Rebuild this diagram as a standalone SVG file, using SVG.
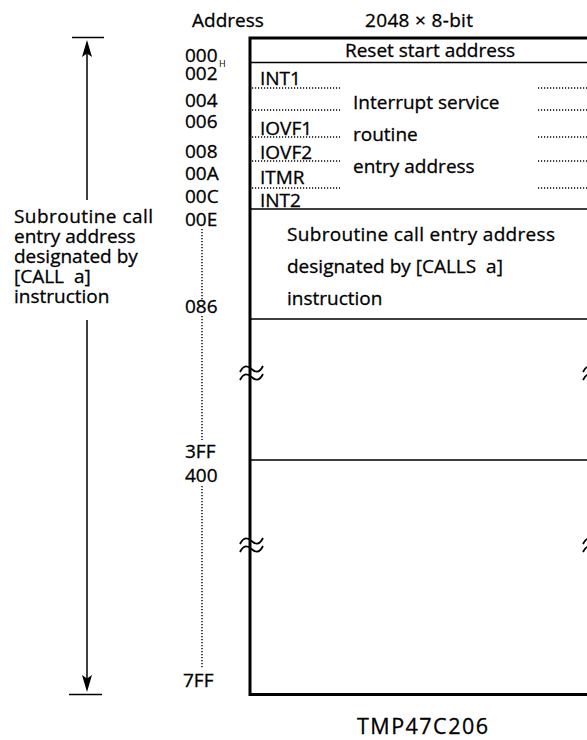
<svg xmlns="http://www.w3.org/2000/svg" width="587" height="740" viewBox="0 0 587 740">
<style>
text{font-family:"Open Sans","Noto Sans","Liberation Sans",sans-serif;font-size:19px;fill:#000;stroke:#000;stroke-width:0.3;white-space:pre}
.sub{font-size:9px;stroke-width:0}
.big{font-size:21.5px}
.thick{stroke:#000;stroke-width:3;fill:none}
.thin{stroke:#000;stroke-width:1.5;fill:none}
.dot{stroke:#000;stroke-width:1.4;stroke-dasharray:1.2 1.8;fill:none}
.wave{stroke:#000;stroke-width:1.8;fill:none}
.arr{fill:#000}
</style>
<rect width="587" height="740" fill="#fff"/>
<g id="headers">
<text x="192" y="27">Address</text>
<text x="365" y="27" textLength="108">2048 × 8-bit</text>
</g>
<g id="addresses">
<text x="185" y="62">000</text><text class="sub" x="219" y="67">H</text>
<text x="185" y="80">002</text>
<text x="185" y="107">004</text>
<text x="185" y="128">006</text>
<text x="185" y="158">008</text>
<text x="185" y="180">00A</text>
<text x="185" y="203">00C</text>
<text x="185" y="226">00E</text>
<text x="185" y="313">086</text>
<text x="185" y="458">3FF</text>
<text x="185" y="482">400</text>
<text x="183" y="687">7FF</text>
<path class="dot" d="M202,229V300M202,316V440M202,486V668"/>
</g>
<g id="memory-box">
<path class="thick" d="M250,37.5V695M248.5,38H590M248.5,694.5H590"/>
<path class="thin" d="M251,62.5H590M251,209H590M251,319H590M251,460H590"/>
<path class="wave" d="M240,372C244,364 248,366 251.5,369S259,374 263,366M240,380C244,372 248,374 251.5,377S259,382 263,374"/>
<path class="wave" d="M240,544C244,536 248,538 251.5,541S259,546 263,538M240,552C244,544 248,546 251.5,549S259,554 263,546"/>
<path class="wave" d="M583,372C587,364 591,366 594.5,369S602,374 606,366M583,380C587,372 591,374 594.5,377S602,382 606,374"/>
<path class="wave" d="M583,544C587,536 591,538 594.5,541S602,546 606,538M583,552C587,544 591,546 594.5,549S602,554 606,546"/>
</g>
<g id="reset">
<text x="430" y="57" text-anchor="middle">Reset start address</text>
</g>
<g id="interrupt">
<path class="dot" d="M252,88H340M252,110H340M252,137H340M252,161H340M252,188H340"/>
<path class="dot" d="M538,88H590M538,110H590M538,137H590M538,161H590M538,188H590"/>
<text x="260" y="85">INT1</text>
<text x="260" y="135">IOVF1</text>
<text x="260" y="159">IOVF2</text>
<text x="260" y="184">ITMR</text>
<text x="260" y="207">INT2</text>
<text x="353" y="109">Interrupt service</text>
<text x="353" y="141">routine</text>
<text x="353" y="173">entry address</text>
</g>
<g id="subroutine">
<text x="287" y="241" textLength="268">Subroutine call entry address</text>
<text x="287" y="273">designated by [CALLS  a]</text>
<text x="287" y="305">instruction</text>
</g>
<g id="left-label">
<text x="14" y="223" textLength="139">Subroutine call</text>
<text x="14" y="243">entry address</text>
<text x="14" y="263">designated by</text>
<text x="14" y="283">[CALL  a]</text>
<text x="14" y="303">instruction</text>
</g>
<g id="connectors">
<path class="thin" d="M72,37.5H104M69,694.5H102" stroke-width="2"/>
<path class="thin" d="M87,52V200M87,320V680"/>
<polygon class="arr" points="87,40 82,57 87,53.5 92,57"/>
<polygon class="arr" points="87,692 82,675 87,678.5 92,675"/>
</g>
<g id="title">
<text class="big" x="357" y="734" textLength="131">TMP47C206</text>
</g>
</svg>
